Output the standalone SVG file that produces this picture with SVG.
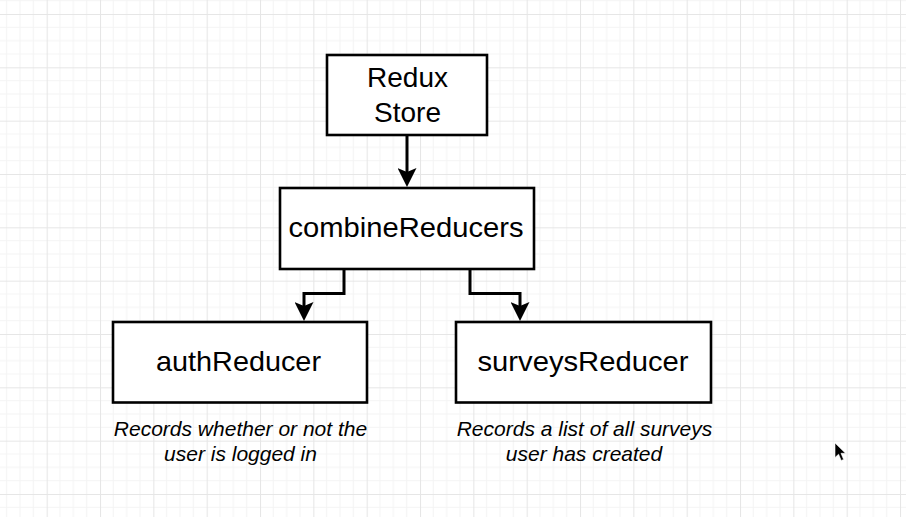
<svg xmlns="http://www.w3.org/2000/svg" width="906" height="517" viewBox="0 0 906 517">
  <style>
    .box { fill: #ffffff; stroke: #000000; stroke-width: 2.6; }
    .label { font-family: "Liberation Sans", Arial, Helvetica, sans-serif; font-size: 28px; fill: #000000; text-anchor: middle; }
    .note { font-family: "Liberation Sans", Arial, Helvetica, sans-serif; font-size: 21px; font-style: italic; fill: #000000; text-anchor: middle; }
    .wire { fill: none; stroke: #000000; stroke-width: 3; stroke-linejoin: miter; }
  </style>
  <defs>
    <pattern id="grid" patternUnits="userSpaceOnUse" x="46.67" y="14" width="53.333" height="53.333">
      <rect width="53.333" height="53.333" fill="#ffffff"/>
      <path d="M13.33 0V53.33M26.67 0V53.33M40 0V53.33M0 13.33H53.33M0 26.67H53.33M0 40H53.33" stroke="#f4f4f4" stroke-width="1" fill="none"/>
      <path d="M0.5 0V53.33M0 0.5H53.33" stroke="#e6e6e6" stroke-width="1" fill="none"/>
    </pattern>
    <marker id="arrow" markerUnits="userSpaceOnUse" viewBox="0 0 19 19" markerWidth="19" markerHeight="19" refX="4" refY="9.5" orient="auto">
      <path d="M0 0L19 9.5L0 19L4 9.5Z" fill="#000000"/>
    </marker>
  </defs>

  <rect width="906" height="517" fill="url(#grid)"/>

  <g id="connectors">
    <path class="wire" d="M407 136V172" marker-end="url(#arrow)"/>
    <path class="wire" d="M344 269V293.5H304V306" marker-end="url(#arrow)"/>
    <path class="wire" d="M470 269V293.5H520V306" marker-end="url(#arrow)"/>
  </g>

  <g id="redux-store">
    <rect class="box" x="327" y="55" width="160" height="80"/>
    <text class="label" x="407.5" y="86.5">Redux</text>
    <text class="label" x="407.5" y="121.5">Store</text>
  </g>

  <g id="combine-reducers">
    <rect class="box" x="280" y="188" width="254" height="81"/>
    <text class="label" x="406" y="236.5" textLength="235" lengthAdjust="spacingAndGlyphs">combineReducers</text>
  </g>

  <g id="auth-reducer">
    <rect class="box" x="113" y="322" width="254" height="80.5"/>
    <text class="label" x="238.5" y="371" textLength="165" lengthAdjust="spacingAndGlyphs">authReducer</text>
    <text class="note" x="240.5" y="435.5">Records whether or not the</text>
    <text class="note" x="240.5" y="461">user is logged in</text>
  </g>

  <g id="surveys-reducer">
    <rect class="box" x="456" y="322" width="255" height="80.5"/>
    <text class="label" x="583" y="371" textLength="211" lengthAdjust="spacingAndGlyphs">surveysReducer</text>
    <text class="note" x="584.5" y="435.5">Records a list of all surveys</text>
    <text class="note" x="584" y="461">user has created</text>
  </g>

  <!-- mouse pointer -->
  <path d="M835 443L835 457.5L838.6 454.2L841.2 460.5L843.6 459.4L841 453.3L845.5 453.3Z" fill="#000000" stroke="#ffffff" stroke-width="0.6"/>
</svg>
